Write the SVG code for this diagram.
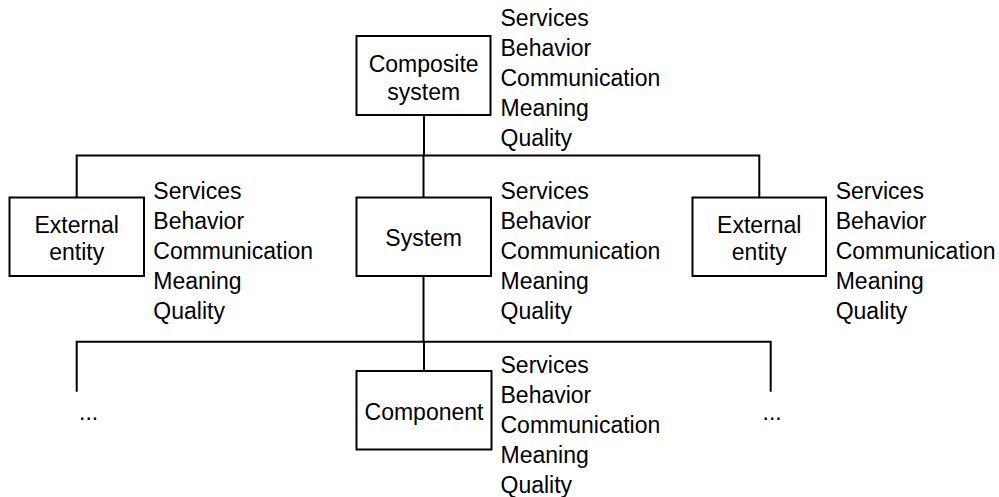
<svg xmlns="http://www.w3.org/2000/svg" width="999" height="497" viewBox="0 0 999 497">
<style>
.box{fill:#fff;stroke:#000;stroke-width:2}
.ln{fill:none;stroke:#000;stroke-width:2}
text{font-family:"Liberation Sans",Arial,sans-serif;font-size:23px;fill:#000}
.c{text-anchor:middle}
</style>
<rect width="999" height="497" fill="#fff"/>
<g id="connectors">
<path class="ln" d="M424 115 V155.5 M76.7 197.5 V155.5 H759.3 V197.5 M423.5 155.5 V197.5 M423.5 276 V341.7 M76.7 391.7 V341.7 H770.7 V391.7 M424 341.7 V371"/>
</g>
<g id="composite">
<rect class="box" x="356.5" y="36" width="134" height="79"/>
<text class="c" x="423.7" y="71.5">Composite</text>
<text class="c" x="423.7" y="99.5">system</text>
<text x="500.5" y="26">Services</text>
<text x="500.5" y="56">Behavior</text>
<text x="500.5" y="86">Communication</text>
<text x="500.5" y="116">Meaning</text>
<text x="500.5" y="146">Quality</text>
</g>
<g id="external-left">
<rect class="box" x="9.5" y="197.5" width="134.5" height="78.5"/>
<text class="c" x="76.7" y="232.5">External</text>
<text class="c" x="76.7" y="260">entity</text>
<text x="153.3" y="198.5">Services</text>
<text x="153.3" y="228.5">Behavior</text>
<text x="153.3" y="258.5">Communication</text>
<text x="153.3" y="288.5">Meaning</text>
<text x="153.3" y="318.5">Quality</text>
</g>
<g id="system">
<rect class="box" x="356.5" y="197.5" width="134.5" height="78.5"/>
<text class="c" x="423.7" y="246">System</text>
<text x="500.5" y="198.5">Services</text>
<text x="500.5" y="228.5">Behavior</text>
<text x="500.5" y="258.5">Communication</text>
<text x="500.5" y="288.5">Meaning</text>
<text x="500.5" y="318.5">Quality</text>
</g>
<g id="external-right">
<rect class="box" x="692.5" y="197.5" width="133.5" height="78.5"/>
<text class="c" x="759.3" y="232.5">External</text>
<text class="c" x="759.3" y="260">entity</text>
<text x="835.7" y="198.5">Services</text>
<text x="835.7" y="228.5">Behavior</text>
<text x="835.7" y="258.5">Communication</text>
<text x="835.7" y="288.5">Meaning</text>
<text x="835.7" y="318.5">Quality</text>
</g>
<g id="component">
<rect class="box" x="356.5" y="371" width="135" height="78.5"/>
<text class="c" x="424" y="420">Component</text>
<text x="500.5" y="372.5">Services</text>
<text x="500.5" y="402.5">Behavior</text>
<text x="500.5" y="432.5">Communication</text>
<text x="500.5" y="462.5">Meaning</text>
<text x="500.5" y="492.5">Quality</text>
</g>
<g id="more-left">
<text x="79" y="420">...</text>
</g>
<g id="more-right">
<text x="762.5" y="420">...</text>
</g>
</svg>
